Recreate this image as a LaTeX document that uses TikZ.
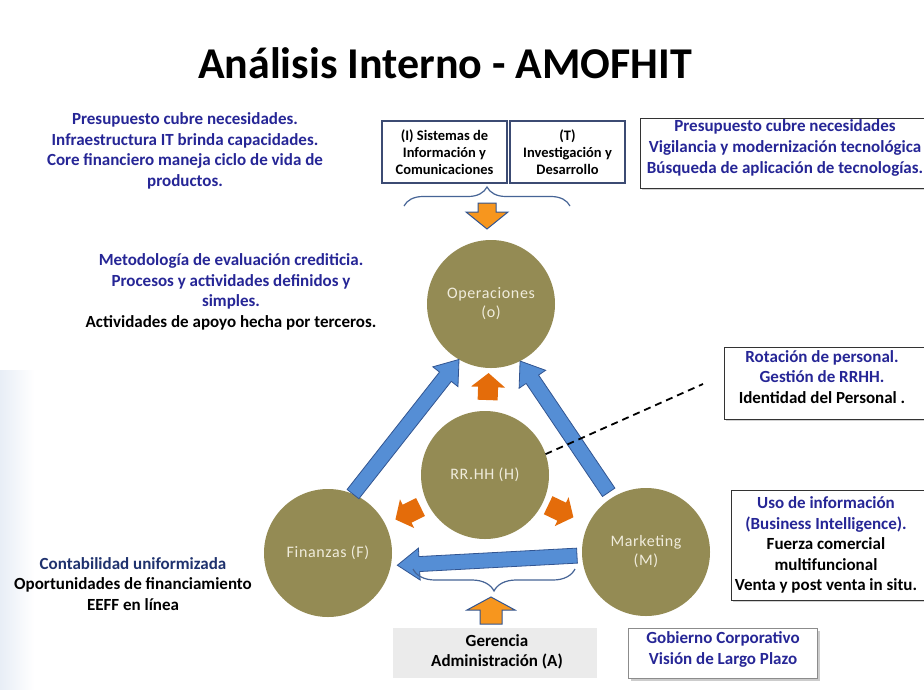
\documentclass[tikz,border=0pt]{standalone}
\usepackage{fontspec}
\setmainfont{Carlito}
\usetikzlibrary{calc,decorations.pathreplacing,shadows}

\definecolor{txtblue}{RGB}{38,38,150}
\definecolor{txtnavy}{RGB}{31,50,110}
\definecolor{circfill}{RGB}{148,139,84}
\definecolor{circtxt}{RGB}{240,236,220}
\definecolor{arrblue}{RGB}{85,142,213}
\definecolor{arrblueline}{RGB}{50,85,145}
\definecolor{hrorange}{RGB}{228,108,10}
\definecolor{inorange}{RGB}{247,150,30}
\definecolor{bracecol}{RGB}{70,100,150}
\definecolor{boxline}{RGB}{60,75,115}
\definecolor{haze}{RGB}{232,238,246}

% block arrow: style, tail, tip, half shaft width, half head width, head length
\newcommand\blockarrow[6]{%
  \coordinate (ba-h) at ($(#3)!#6!(#2)$);
  \path[#1] ($(#2)!#4!90:(#3)$) -- ($(ba-h)!#4!90:(#3)$) -- ($(ba-h)!#5!90:(#3)$)
    -- (#3) -- ($(ba-h)!#5!-90:(#3)$) -- ($(ba-h)!#4!-90:(#3)$) -- ($(#2)!#4!-90:(#3)$) -- cycle;
}

\begin{document}
\begin{tikzpicture}[x=1pt,y=-1pt,
  every node/.style={inner sep=0pt, outer sep=0pt},
  body/.style={align=center, font=\fontsize{17}{20.6}\selectfont\bfseries},
  circ/.style={circle, fill=circfill, minimum size=128pt, text=circtxt, align=center,
    font=\fontsize{16}{19}\selectfont\addfontfeature{LetterSpace=4}},
  topbox/.style={draw=boxline, line width=1.1pt, fill=white, align=center,
    font=\fontsize{14.5}{17.2}\selectfont\bfseries},
  sidebox/.style={draw=black!80, line width=1pt, fill=white,
    drop shadow={shadow xshift=2pt, shadow yshift=-2pt, opacity=0.35}},
  bluearrow/.style={fill=arrblue, draw=arrblueline, line width=0.8pt, line join=miter},
  hrarrow/.style={fill=hrorange},
  inarrow/.style={fill=inorange, draw=arrblueline, line width=1pt, line join=miter},
  bracestyle/.style={draw=bracecol, line width=1.2pt, decorate},
]
\useasboundingbox (0,0) rectangle (924,689);
\clip (0,0) rectangle (924,689);
\fill[white] (0,0) rectangle (924,689);
\fill[left color=haze, right color=white] (0,370) rectangle (34,689);

% title
\node[anchor=base, font=\fontsize{44}{50}\selectfont\bfseries] (title) at (445,78)
  {Análisis Interno - AMOFHIT};

% free notes on the left
\node[body, text=txtblue] (notetop) at (185,151)
  {Presupuesto cubre necesidades.\\Infraestructura IT brinda capacidades.\\Core financiero maneja ciclo de vida de\\productos.};
\node[body] (noteops) at (231,292)
  {\textcolor{txtblue}{Metodología de evaluación crediticia.}\\
   \textcolor{txtblue}{Procesos y actividades definidos y}\\
   \textcolor{txtblue}{simples.}\\
   Actividades de apoyo hecha por terceros.};
\node[body] (notefin) at (133,584)
  {\textcolor{txtnavy}{Contabilidad uniformizada}\\Oportunidades de financiamiento\\EEFF en línea};

% I and T boxes
\node[topbox, minimum width=125pt, minimum height=62pt] (sis) at (444.5,152)
  {(I) Sistemas de\\Información y\\Comunicaciones};
\node[topbox, minimum width=115pt, minimum height=62pt] (inv) at (567.5,152)
  {(T)\\Investigación y\\Desarrollo};

% boxes on the right
\node[sidebox, minimum width=300pt, minimum height=70pt] (presbox) at (790,153) {};
\node[body, text=txtblue] (prestext) at (785,148)
  {Presupuesto cubre necesidades\\Vigilancia y modernización tecnológica\\Búsqueda de aplicación de tecnologías.};
\node[sidebox, minimum width=212pt, minimum height=72pt] (rotbox) at (830,383) {};
\node[body] (rottext) at (822,377)
  {\textcolor{txtblue}{Rotación de personal.}\\\textcolor{txtblue}{Gestión de RRHH.}\\Identidad del Personal .};
\node[sidebox, minimum width=204pt, minimum height=110pt] (usobox) at (833,545) {};
\node[body] (usotext) at (826,545)
  {\textcolor{txtblue}{Uso de información}\\\textcolor{txtblue}{(Business Intelligence).}\\Fuerza comercial\\multifuncional\\Venta y post venta in situ.};

% bottom boxes
\node[fill=black!8, minimum width=204pt, minimum height=50pt] (gerbox) at (495,653) {};
\node[body] (gertext) at (497,652) {Gerencia\\Administración (A)};
\node[draw=black!45, line width=1pt, fill=white, minimum width=189pt, minimum height=50pt,
  drop shadow={shadow xshift=2.5pt, shadow yshift=-2.5pt, opacity=0.4}] (gobbox) at (722.5,653) {};
\node[body, text=txtblue] (gobtext) at (723,649.5) {Gobierno Corporativo\\Visión de Largo Plazo};

% the four areas
\node[circ] (op) at (491,304) {Operaciones\\(o)};
\node[circ] (rh) at (485,475) {RR.HH (H)};
\node[circ] (fi) at (328,553) {Finanzas (F)};
\node[circ] (mk) at (646,552) {Marketing\\(M)};

% flows between the areas
\coordinate (fo-s) at (fi.67);
\coordinate (fo-e) at (op.240);
\blockarrow{bluearrow}{fo-s}{fo-e}{7.5pt}{16pt}{22pt}
\coordinate (mo-s) at ($(mk.center)!1.1!(mk.122)$);
\coordinate (mo-e) at (op.297);
\blockarrow{bluearrow}{mo-s}{mo-e}{7.5pt}{16pt}{22pt}
\coordinate (mf-s) at ($(mk.center)!1.08!(mk.183)$);
\coordinate (mf-e) at ($(fi.center)!1.1!(fi.350)$);
\blockarrow{bluearrow}{mf-s}{mf-e}{7.5pt}{16pt}{22pt}

% RR.HH supports the others
\coordinate (ho-s) at ($(rh.center)!75pt!(op.center)$);
\coordinate (ho-e) at ($(rh.center)!102pt!(op.center)$);
\blockarrow{hrarrow}{ho-s}{ho-e}{10pt}{17pt}{14pt}
\coordinate (hf-s) at ($(rh.center)!72pt!(fi.center)$);
\coordinate (hf-e) at ($(rh.center)!100pt!(fi.center)$);
\blockarrow{hrarrow}{hf-s}{hf-e}{10pt}{16pt}{13pt}
\coordinate (hm-s) at ($(rh.center)!70pt!(mk.center)$);
\coordinate (hm-e) at ($(rh.center)!98pt!(mk.center)$);
\blockarrow{hrarrow}{hm-s}{hm-e}{10pt}{16pt}{13pt}

% I and T feed Operaciones
\draw[bracestyle, decoration={brace, amplitude=19pt}] (404,206) -- (570,206);
\coordinate (ti-s) at (487,203);
\coordinate (ti-e) at (487,229);
\blockarrow{inarrow}{ti-s}{ti-e}{9pt}{21pt}{17pt}

% Administración under the Marketing-Finanzas flow
\draw[bracestyle, decoration={brace, amplitude=22pt}] (575,569) -- (413,569);
\coordinate (ad-s) at (491,624);
\coordinate (ad-e) at (491,597);
\blockarrow{inarrow}{ad-s}{ad-e}{11pt}{24pt}{13pt}

% RR.HH note
\coordinate (rot-end) at (703,384);
\draw[dash pattern=on 7pt off 5pt, line width=1.8pt] (rh.19) -- (rot-end);
\end{tikzpicture}
\end{document}
